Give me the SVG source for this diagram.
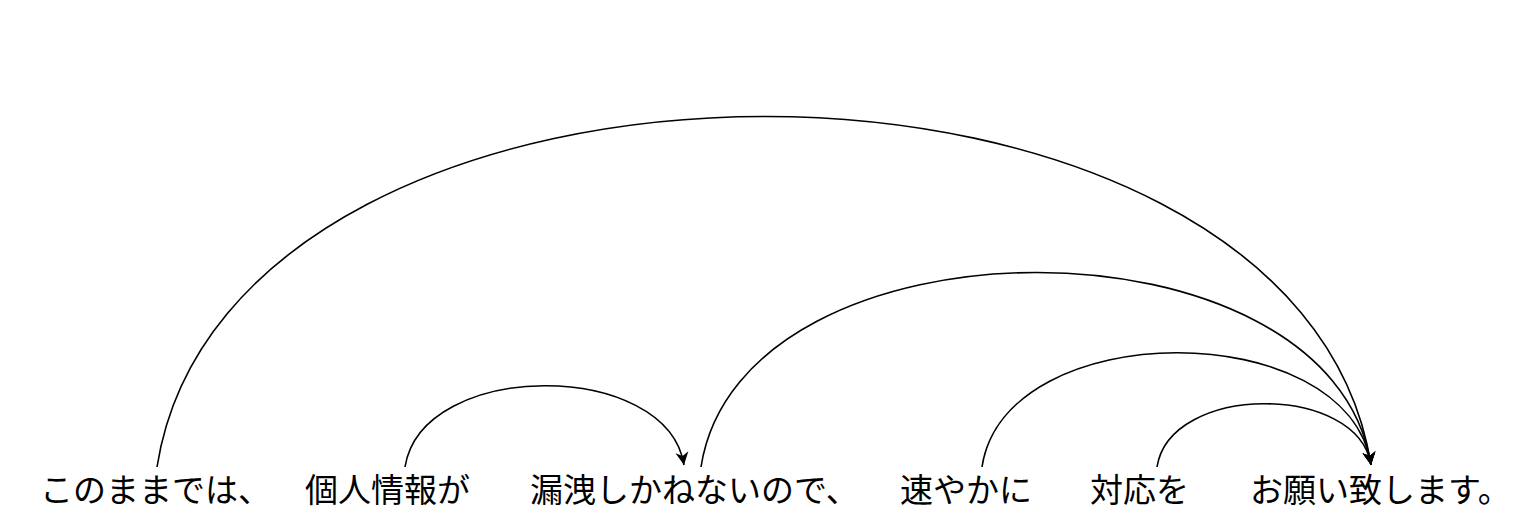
<svg xmlns="http://www.w3.org/2000/svg" width="1517" height="530" viewBox="0 0 1517 530">
<style>
.w{font-family:"Noto Sans CJK JP","Noto Sans CJK SC",sans-serif;font-size:33px;fill:#000}
.e{fill:none;stroke:#000;stroke-width:1.6;marker-end:url(#ah)}
</style>
<defs>
<marker id="ah" markerUnits="userSpaceOnUse" markerWidth="14" markerHeight="14" viewBox="0 0 14 14" refX="13" refY="7" orient="auto">
<path d="M0,0.5 L13,7 L0,13.5 L4,7 Z" fill="#000"/>
</marker>
</defs>
<rect width="1517" height="530" fill="#fff"/>
<g id="connectors">
<path class="e" d="M157,467 C230,0 1298,0 1371,465"/>
<path class="e" d="M405,467 C422,359 667,359 684,465"/>
<path class="e" d="M701,467 C741,208 1331,208 1371,465"/>
<path class="e" d="M982,467 C1005,315 1348,315 1371,465"/>
<path class="e" d="M1157,467 C1170,383 1358,383 1371,465"/>
</g>
<g id="n1"><text class="w" x="40" y="502">このままでは、</text></g>
<g id="n2"><text class="w" x="305" y="502">個人情報が</text></g>
<g id="n3"><text class="w" x="530" y="502">漏洩しかねないので、</text></g>
<g id="n4"><text class="w" x="900" y="502">速やかに</text></g>
<g id="n5"><text class="w" x="1090" y="502">対応を</text></g>
<g id="n6"><text class="w" x="1250" y="502">お願い致します。</text></g>
</svg>
